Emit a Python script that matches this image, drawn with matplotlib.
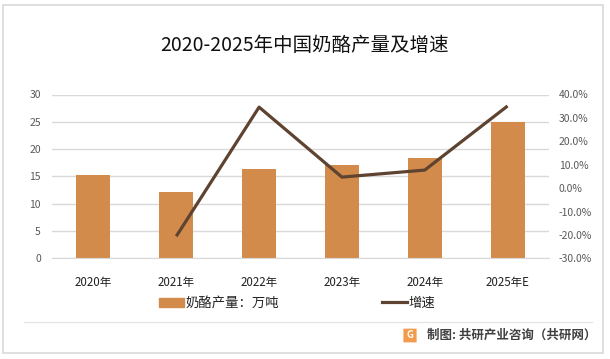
import numpy as np
import matplotlib
matplotlib.use("Agg")
import matplotlib.pyplot as plt
from matplotlib.patches import Patch, FancyBboxPatch
from matplotlib.lines import Line2D
from matplotlib.ticker import MultipleLocator, FuncFormatter

plt.rcParams['font.family'] = ['Noto Sans CJK SC', 'DejaVu Sans']

years = ['2020年', '2021年', '2022年', '2023年', '2024年', '2025年E']
output = [15.2, 12.1, 16.3, 17.1, 18.3, 24.9]          # 万吨
growth = [np.nan, -20.6, 34.6, 4.7, 7.7, 35.1]          # %

bar_color = '#D38B4C'
line_color = '#5E4330'
grid_color = '#D9D9D9'
tick_color = '#595959'

fig = plt.figure(figsize=(6.1, 3.59), dpi=100)

# outer border
fig.patches.append(plt.Rectangle((3 / 610, 1 - 353 / 359), 600 / 610, 348 / 359,
                                 transform=fig.transFigure, fill=False,
                                 edgecolor='#D9D9D9', lw=1.2, zorder=1))

ax = fig.add_axes([52 / 610, 1 - 258.3 / 359, 497 / 610, 163.8 / 359])
ax.set_facecolor('none')
x = np.arange(len(years))
ax.bar(x, output, width=0.41, color=bar_color, zorder=2)
ax.set_xlim(-0.5, len(years) - 0.5)
ax.set_ylim(0, 30)
ax.yaxis.set_major_locator(MultipleLocator(5))
ax.grid(axis='y', color=grid_color, lw=1, zorder=0)
ax.set_axisbelow(True)
for s in ['top', 'right', 'left']:
    ax.spines[s].set_visible(False)
ax.spines['bottom'].set_color(grid_color)
ax.set_xticks(x)
ax.set_xticklabels(years)
ax.tick_params(axis='x', length=0, pad=12.5, labelsize=8.3, labelcolor='#222222')
ax.tick_params(axis='y', length=0, pad=8, labelsize=7.5, labelcolor=tick_color)

ax2 = ax.twinx()
ax2.plot(x, growth, color=line_color, lw=2.3, zorder=3, solid_capstyle='butt')
ax2.set_ylim(-30, 40)
ax2.yaxis.set_major_locator(MultipleLocator(10))
ax2.yaxis.set_major_formatter(FuncFormatter(lambda v, p: f'{v:.1f}%'))
for s in ['top', 'right', 'left', 'bottom']:
    ax2.spines[s].set_visible(False)
ax2.tick_params(axis='y', length=0, pad=7, labelsize=7.5, labelcolor=tick_color)

fig.text(305 / 610, 1 - 45.5 / 359, '2020-2025年中国奶酪产量及增速', fontsize=14,
         ha='center', va='center', color='#111111')

handles = [Patch(color=bar_color), Line2D([0], [0], color=line_color, lw=2.3)]
fig.legend(handles, ['奶酪产量：万吨', '增速'], loc='center',
           bbox_to_anchor=(297 / 610, 1 - 303 / 359), ncol=2, frameon=False,
           fontsize=9.6, handlelength=1.9, handletextpad=0.1, columnspacing=7.7,
           labelcolor='#222222')

# separator line and footer
fig.add_artist(Line2D([24 / 610, 592 / 610], [1 - 321.5 / 359] * 2, color='#E6E6E6', lw=1))
fig.patches.append(FancyBboxPatch((404 / 610, 1 - 342 / 359), 12 / 610, 13 / 359,
                                  boxstyle='round,pad=0.001', transform=fig.transFigure,
                                  facecolor='#F29B4C', edgecolor='none'))
fig.text(410 / 610, 1 - 335.5 / 359, 'G', fontsize=7, fontweight='bold', color='white',
         ha='center', va='center')
fig.text(427 / 610, 1 - 335.5 / 359, '制图: 共研产业咨询（共研网）', fontsize=9,
         fontweight='bold', color='#404040', ha='left', va='center')

fig.savefig('out.png', dpi=100)
